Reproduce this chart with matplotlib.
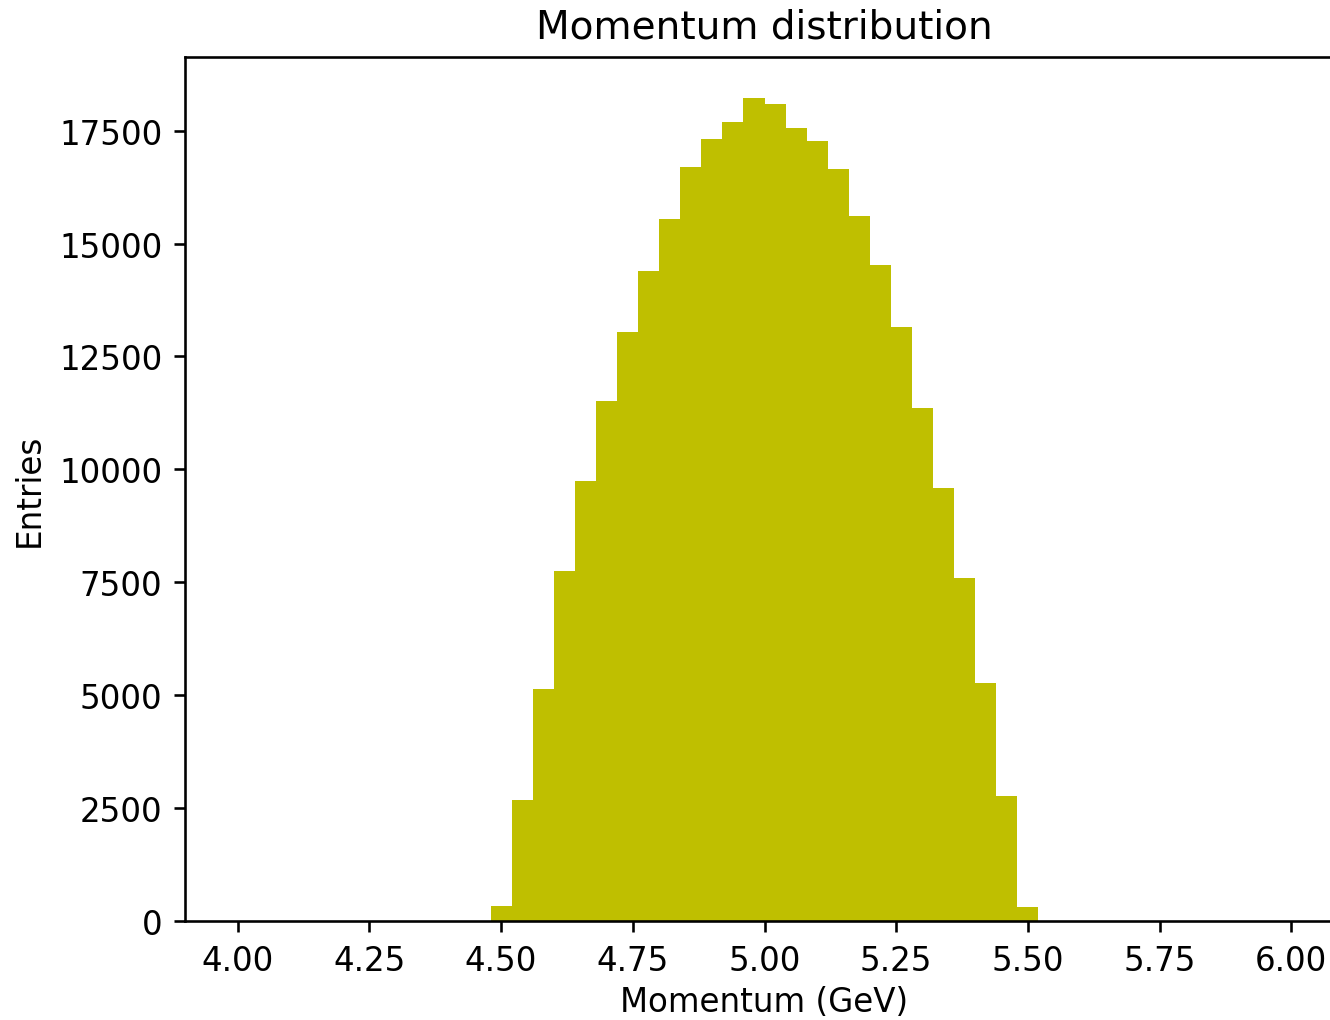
import matplotlib
matplotlib.use('Agg')
import matplotlib.pyplot as plt
import numpy as np

# bin edges (GeV) and entries
edges = np.linspace(4.48, 5.52, 27)
counts = [330, 2680, 5130, 7740, 9750, 11520, 13040, 14390, 15540, 16700,
          17320, 17690, 18220, 18090, 17550, 17270, 16650, 15610, 14530,
          13150, 11350, 9580, 7590, 5270, 2770, 320]

dpi = 234
fig = plt.figure(figsize=(1330 / dpi, 1021 / dpi), dpi=dpi)
ax = fig.add_axes([185 / 1330, 99 / 1021, 1159 / 1330, 864 / 1021])

ax.hist(edges[:-1], bins=edges, weights=counts, color='y')
ax.set_xlim(3.9, 6.1)

ax.set_title('Momentum distribution')
ax.set_xlabel('Momentum (GeV)', labelpad=2.5)
ax.set_ylabel('Entries')

fig.savefig('out.png', dpi=dpi)
